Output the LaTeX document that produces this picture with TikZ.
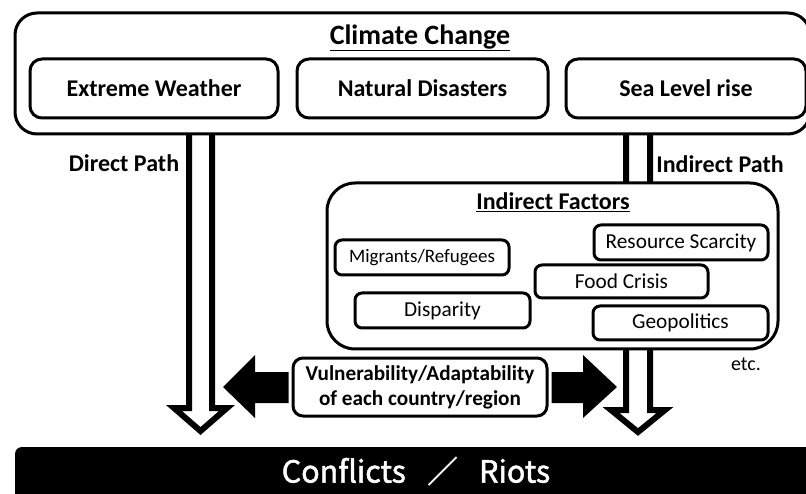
\documentclass[tikz,border=0pt]{standalone}
\usepackage{fontspec}
\setmainfont{Carlito}
\newfontfamily\gothic[FakeBold=1.6]{Noto Sans CJK JP}
\usetikzlibrary{calc}
\begin{document}
\begin{tikzpicture}[x=1pt,y=-1pt,
  frame/.style={draw=black,line width=3pt,fill=white,rounded corners=#1,inner sep=0pt},
  bigbox/.style={frame=12pt,font=\fontsize{24}{26}\selectfont\bfseries},
  factor/.style={frame=7pt,font=\fontsize{21.3}{23}\selectfont},
  title/.style={inner sep=0pt,font=\fontsize{#1}{28}\selectfont\bfseries},
  label/.style={inner sep=0pt,font=\fontsize{24}{26}\selectfont\bfseries},
  hollow/.style={draw=black,line width=6pt,fill=white,line join=miter},
  solidarrow/.style={fill=black,draw=none}]
\useasboundingbox (0,0) rectangle (806,494);
\clip (0,0) rectangle (806,494);

% hollow path arrows, drawn first so the boxes cover their upper ends
\draw[hollow] (189,134) -- (189,408) -- (174,408) -- (200.5,431) -- (227,408) -- (212,408) -- (212,134);
\draw[hollow] (626,134) -- (626,410) -- (611,410) -- (638,432) -- (665,410) -- (650,410) -- (650,134);

% climate change and its three effects
\node[frame=22pt,minimum width=795pt,minimum height=121pt] (climate) at (412.5,73.5) {};
\node[title=28] (ctitle) at (420,38) {\underline{Climate Change}};
\node[bigbox,minimum width=248pt,minimum height=59pt] (ew) at (154,88.5) {Extreme Weather};
\node[bigbox,minimum width=251pt,minimum height=59pt] (nd) at (422.5,88.5) {Natural Disasters};
\node[bigbox,minimum width=240pt,minimum height=59pt] (sl) at (686,88.5) {Sea Level rise};

\node[label] (direct) at (124,163) {Direct Path};
\node[label] (indirect) at (720,164) {Indirect Path};

% indirect factors
\node[frame=28pt,minimum width=451pt,minimum height=166pt] (ind) at (552.5,266) {};
\node[title=24] (ititle) at (553,202) {\underline{Indirect Factors}};
\node[factor,minimum width=174pt,minimum height=35pt,font=\fontsize{19}{21}\selectfont] (mig) at (422,257.5) {Migrants/Refugees};
\node[factor,minimum width=175pt,minimum height=35pt] (disp) at (442.5,310.5) {Disparity};
\node[factor,minimum width=174pt,minimum height=35pt] (res) at (681,242.5) {Resource Scarcity};
\node[factor,minimum width=173pt,minimum height=33pt] (food) at (621.5,281.5) {Food Crisis};
\node[factor,minimum width=175pt,minimum height=34pt] (geo) at (680.5,323) {Geopolitics};
\node[inner sep=0pt,font=\fontsize{20}{22}\selectfont] (etc) at (746,364) {etc.};

% vulnerability with the double arrow behind it
\fill[solidarrow] (223,387) -- (255,355) -- (255,372) -- (583,372) -- (583,355) -- (617,387)
  -- (583,418) -- (583,403) -- (255,403) -- (255,418) -- cycle;
\node[draw=white,line width=9pt,rounded corners=10pt,minimum width=254pt,minimum height=58pt] (vgap) at (420,387) {};
\node[frame=10pt,minimum width=254pt,minimum height=58pt,align=center,
  font=\fontsize{21.2}{25}\selectfont\bfseries] (vuln) at (420,387)
  {Vulnerability/Adaptability\\of each country/region};

% outcome bar
\fill[black,rounded corners=7pt] (15,447) rectangle (830,520);
\node[inner sep=0pt,text=white,font=\gothic\fontsize{30.5}{33}\selectfont] (outcome) at (416,471)
  {Conflicts\hspace{0.7em}／\hspace{0.7em}Riots};
\end{tikzpicture}
\end{document}
